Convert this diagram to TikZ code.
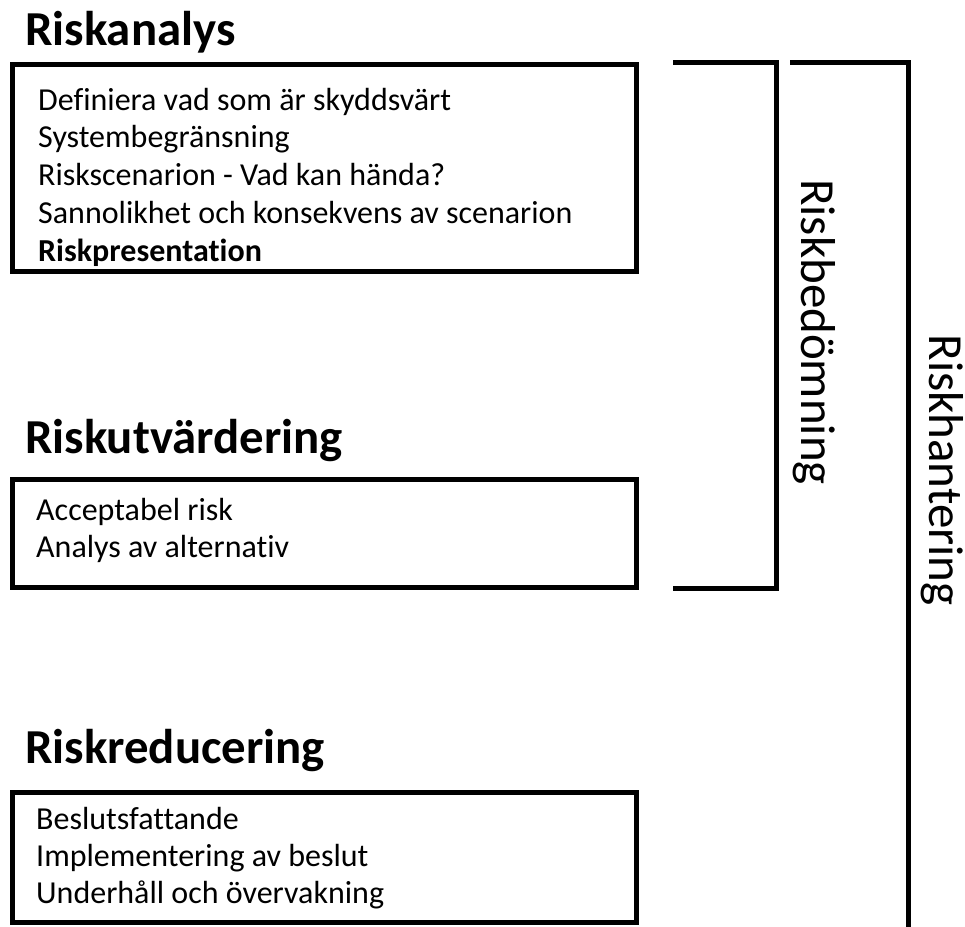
\documentclass[tikz,border=0pt]{standalone}
\usepackage{fontspec}
\setmainfont[Ligatures=NoCommon]{Carlito}
\usetikzlibrary{calc,positioning}

\tikzset{
  rubrik/.style={anchor=base west,inner sep=0pt,font=\fontsize{48.8}{58}\selectfont\bfseries},
  punkt/.style={anchor=base west,inner sep=0pt,font=\fontsize{32}{38}\selectfont},
  ruta/.style={draw,line width=5pt,inner sep=0pt,outer sep=0pt,anchor=north west,minimum width=623.5pt},
  klammer/.style={draw,line width=5pt},
  sidtext/.style={rotate=-90,inner sep=0pt,font=\fontsize{49}{58}\selectfont}
}

\begin{document}
\begin{tikzpicture}[x=1pt,y=-1pt]
\useasboundingbox (0,0) rectangle (965,926);

%Riskanalys
\node[rubrik] (tAnalys) at (25,45) {Riskanalys};
\node[ruta,minimum height=206.5pt] (bAnalys) at (12.5,64.5) {};
\foreach \txt [count=\i] in {Definiera vad som är skyddsvärt,Systembegränsning,Riskscenarion - Vad kan hända?,Sannolikhet och konsekvens av scenarion,{\bfseries Riskpresentation}}
{
    \node[punkt] (pAnalys\i) at (38,{110+37.8*(\i-1)}) {\txt};
};

%Riskutvärdering
\node[rubrik] (tUtv) at (25,453) {Riskutvärdering};
\node[ruta,minimum height=108pt] (bUtv) at (12.5,479.5) {};
\foreach \txt [count=\i] in {Acceptabel risk,Analys av alternativ}
{
    \node[punkt] (pUtv\i) at (36,{520+37.8*(\i-1)}) {\txt};
};

%Riskreducering
\node[rubrik] (tRed) at (25,763) {Riskreducering};
\node[ruta,minimum height=130pt] (bRed) at (12.5,792.5) {};
\foreach \txt [count=\i] in {Beslutsfattande,Implementering av beslut,Underhåll och övervakning}
{
    \node[punkt] (pRed\i) at (36,{829+37*(\i-1)}) {\txt};
};

%klammer
\coordinate (cB1Pt) at (673,62.5);
\coordinate (cB2Pt) at (776,62.5);
\coordinate (cB3Pt) at (673,588);
\draw[klammer] (cB1Pt) -- (cB2Pt) |- (cB3Pt);
\coordinate (cH1Pt) at (790,62.5);
\coordinate (cH2Pt) at (908,62.5);
\coordinate (cH3Pt) at (908,930);
\draw[klammer] (cH1Pt) -- (cH2Pt) -- (cH3Pt);

\node[sidtext] (sBed) at (814,332) {Riskbedömning};
\node[sidtext] (sHan) at (942,470) {Riskhantering};
\end{tikzpicture}
\end{document}
